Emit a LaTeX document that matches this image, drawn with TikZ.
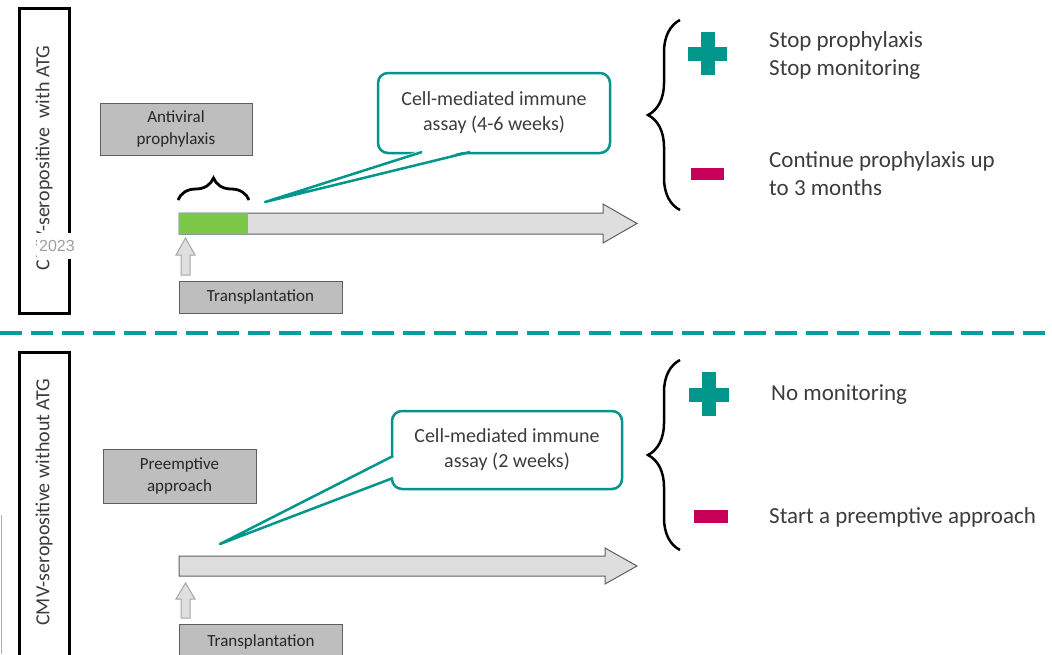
\documentclass[tikz,border=0pt]{standalone}
\usepackage{fontspec}
\setmainfont{Carlito}
\newfontfamily\helv{Liberation Sans}
\usetikzlibrary{decorations.pathreplacing}
\definecolor{teal1}{RGB}{0,150,140}
\definecolor{dashteal}{RGB}{0,160,155}
\definecolor{mag}{RGB}{200,0,90}
\definecolor{grn}{RGB}{124,200,72}
\definecolor{boxgray}{RGB}{190,190,190}
\definecolor{boxline}{RGB}{95,95,95}
\definecolor{shaft}{RGB}{222,222,222}
\definecolor{txt}{RGB}{60,60,60}
\tikzset{
  labelbox/.style={draw=black,line width=3pt,fill=white,minimum width=50pt,inner sep=0pt},
  graybox/.style={draw=boxline,line width=1pt,fill=boxgray,align=center,font=\fontsize{17}{22}\selectfont,text=black!85,inner sep=0pt},
  callbox/.style={draw=teal1,line width=2.5pt,fill=white,rounded corners=10pt,align=center,font=\fontsize{20}{25}\selectfont,text=txt,inner sep=0pt},
  outtxt/.style={anchor=west,align=left,font=\fontsize{23}{28}\selectfont,text=txt,inner sep=0pt},
  bigarrow/.style={draw=boxline,line width=1pt,fill=shaft},
  uparrow/.style={draw=gray!70,line width=1pt,fill=gray!25},
  bigbrace/.style={decorate,decoration={brace,amplitude=32pt},line width=2.5pt},
  smallbrace/.style={decorate,decoration={brace,amplitude=22pt},line width=2.8pt}
}
\begin{document}
\begin{tikzpicture}[x=1pt,y=-1pt]
\useasboundingbox (0,0) rectangle (1052,654);
% ---------- TOP PANEL ----------
\node[labelbox,minimum height=305pt] (lab1) at (44,160.5) {};
\node[rotate=90,font=\fontsize{20}{24}\selectfont,text=txt] (lab1t) at (44,158) {CMV-seropositive\ \ with ATG};
\node[fill=white,inner sep=0pt,minimum width=41pt,minimum height=26pt,font=\helv\fontsize{16}{18}\selectfont,text=gray!75] (yr) at (57,246) {2023};
\node[graybox,minimum width=152pt,minimum height=52pt] (anti) at (176,129) {Antiviral\\prophylaxis};
% timeline arrow
\draw[bigarrow] (179,213) -- (603,213) -- (603,204) -- (637,223.5) -- (603,243) -- (603,234) -- (179,234) -- cycle;
\node[fill=grn,minimum width=69pt,minimum height=21pt,inner sep=0pt] (green) at (213.5,223.5) {};
\draw[smallbrace] (178,200) -- (249,200);
% up arrow
\draw[uparrow] (181,275) -- (181,255) -- (176,255) -- (185.5,238) -- (195,255) -- (190,255) -- (190,275) -- cycle;
\node[graybox,minimum width=163pt,minimum height=32pt] (tx1) at (260.5,297) {Transplantation};
% callout
\node[callbox,minimum width=232pt,minimum height=80pt] (call1) at (494,113) {Cell-mediated immune\\assay (4-6 weeks)};
\coordinate (tip1) at (265,202);
\fill[white] (422,150) -- (tip1) -- (470,150) -- cycle;
\draw[teal1,line width=2.5pt,line join=round] (422,152) -- (tip1) -- (470,152);
% outcomes
\draw[bigbrace] (680,210) -- (680,20);
\fill[teal1] (701,32) rectangle (715,75);
\fill[teal1] (688,47) rectangle (727,61);
\fill[mag] (691,168) rectangle (724,180);
\node[outtxt] (o1) at (769,55) {Stop prophylaxis\\Stop monitoring};
\node[outtxt] (o2) at (769,174) {Continue prophylaxis up\\to 3 months};
% ---------- DIVIDER ----------
\draw[dashteal,line width=4.5pt,dash pattern=on 22pt off 9pt] (0,333) -- (1052,333);
% ---------- BOTTOM PANEL ----------
\node[labelbox,minimum height=320pt] (lab2) at (44,512) {};
\node[rotate=90,font=\fontsize{20}{24}\selectfont,text=txt] (lab2t) at (44,502) {CMV-seropositive without ATG};
\node[graybox,minimum width=153pt,minimum height=54pt] (pre) at (179.5,476) {Preemptive\\approach};
\draw[bigarrow] (179,556) -- (605,556) -- (605,548) -- (637,566) -- (605,584) -- (605,576) -- (179,576) -- cycle;
\draw[uparrow] (181,618) -- (181,599) -- (176,599) -- (185.5,583) -- (195,599) -- (190,599) -- (190,618) -- cycle;
\node[graybox,minimum width=163pt,minimum height=36pt] (tx2) at (261,642) {Transplantation};
\node[callbox,minimum width=230pt,minimum height=78pt] (call2) at (507,450) {Cell-mediated immune\\assay (2 weeks)};
\coordinate (tip2) at (220,544);
\fill[white] (396,456) -- (tip2) -- (396,478) -- cycle;
\draw[teal1,line width=2.5pt,line join=round] (393,456) -- (tip2) -- (393,478);
\draw[bigbrace] (680,550) -- (680,360);
\fill[teal1] (702,372) rectangle (716,416);
\fill[teal1] (689,388) rectangle (729,402);
\fill[mag] (694,510) rectangle (728,523);
\node[outtxt] (o3) at (771,395) {No monitoring};
\node[outtxt] (o4) at (769,517) {Start a preemptive approach};
\draw[gray!60,line width=1pt] (1,515) -- (1,654);
\end{tikzpicture}
\end{document}
